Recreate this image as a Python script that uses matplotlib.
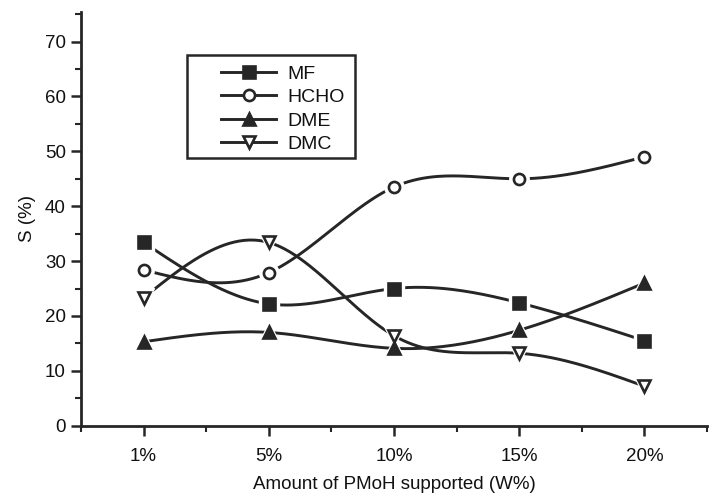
import numpy as np
import matplotlib
matplotlib.use("Agg")
import matplotlib.pyplot as plt
from matplotlib.ticker import MultipleLocator
from matplotlib.patches import Rectangle

plt.rcParams['font.family'] = ['Liberation Sans', 'DejaVu Sans']

categories = ["1%", "5%", "10%", "15%", "20%"]
mf = [33.4, 22.2, 25.0, 22.4, 15.5]
hcho = [28.4, 27.9, 43.5, 45.0, 49.0]
dme = [15.3, 17.0, 14.1, 17.4, 26.0]
dmc = [23.3, 33.4, 16.4, 13.2, 7.2]

x = np.arange(1, len(categories) + 1)


def natural_spline(xs, ys, n=200):
    xs = np.asarray(xs, float)
    ys = np.asarray(ys, float)
    k = len(xs)
    h = np.diff(xs)
    A = np.zeros((k, k))
    b = np.zeros(k)
    A[0, 0] = 1
    A[-1, -1] = 1
    for i in range(1, k - 1):
        A[i, i - 1] = h[i - 1]
        A[i, i] = 2 * (h[i - 1] + h[i])
        A[i, i + 1] = h[i]
        b[i] = 6 * ((ys[i + 1] - ys[i]) / h[i] - (ys[i] - ys[i - 1]) / h[i - 1])
    M = np.linalg.solve(A, b)
    xx = np.linspace(xs[0], xs[-1], n)
    yy = np.empty_like(xx)
    for j, t in enumerate(xx):
        i = min(np.searchsorted(xs, t, side='right') - 1, k - 2)
        dx1 = xs[i + 1] - t
        dx0 = t - xs[i]
        hi = h[i]
        yy[j] = (M[i] * dx1 ** 3 / (6 * hi) + M[i + 1] * dx0 ** 3 / (6 * hi)
                 + (ys[i] / hi - M[i] * hi / 6) * dx1
                 + (ys[i + 1] / hi - M[i + 1] * hi / 6) * dx0)
    return xx, yy


fig = plt.figure(figsize=(7.19, 4.97), dpi=100)
ax = fig.add_axes([81 / 719, 1 - 425.7 / 497, (707 - 81) / 719, (425.7 - 12) / 497])

ink = "#262626"
txt = "#111111"
series = [
    ("MF", mf, dict(marker="s", mfc=ink)),
    ("HCHO", hcho, dict(marker="o", mfc="white")),
    ("DME", dme, dict(marker="^", mfc=ink)),
    ("DMC", dmc, dict(marker="v", mfc="white")),
]

handles = []
for name, ys, st in series:
    xx, yy = natural_spline(x, ys)
    ax.plot(xx, yy, color=ink, lw=2.1, zorder=2, solid_capstyle='round')
    ax.plot(x, ys, ls="none", marker=st["marker"], ms=14, mfc="white",
            mec="white", zorder=3)
    ax.plot(x, ys, ls="none", marker=st["marker"], ms=8, mfc=st["mfc"],
            mec=ink, mew=1.9, zorder=4)
    h, = ax.plot([], [], color=ink, lw=2.1, marker=st["marker"], ms=8,
                 mfc=st["mfc"], mec=ink, mew=1.9, label=name)
    handles.append(h)

ax.set_xlim(0.5, 5.5)
ax.set_ylim(0, 75.4)
ax.set_xticks(x)
ax.set_xticklabels(categories)
ax.xaxis.set_minor_locator(MultipleLocator(0.5))
ax.yaxis.set_major_locator(MultipleLocator(10))
ax.yaxis.set_minor_locator(MultipleLocator(5))
ax.set_yticks(np.arange(0, 71, 10))

for s in ("top", "right"):
    ax.spines[s].set_visible(False)
for s in ("left", "bottom"):
    ax.spines[s].set_linewidth(2.0)
    ax.spines[s].set_color(ink)

ax.tick_params(axis="both", which="major", direction="out", length=7,
               width=1.8, color=ink, labelsize=13.5, labelcolor=txt)
ax.tick_params(axis="both", which="minor", direction="out", length=4,
               width=1.5, color=ink)
ax.tick_params(axis="x", pad=9)
ax.tick_params(axis="y", pad=4)

ax.set_xlabel("Amount of PMoH supported (W%)", fontsize=13.5, color=txt,
              labelpad=8)
ax.set_ylabel("S (%)", fontsize=13.5, color=txt, labelpad=6)

leg = fig.legend(handles=handles, loc="upper left",
                 bbox_to_anchor=(221 / 719, 1 - 65 / 497), fontsize=14,
                 frameon=False, handlelength=2.85, handletextpad=0.55,
                 borderpad=0, labelspacing=0.3, borderaxespad=0)
for t in leg.get_texts():
    t.set_color(txt)

fig.add_artist(Rectangle((187 / 719, 1 - 158 / 497), (355 - 187) / 719,
                         (158 - 55) / 497, transform=fig.transFigure,
                         fill=False, edgecolor=ink, lw=1.8))

fig.savefig("out.png", dpi=100)
